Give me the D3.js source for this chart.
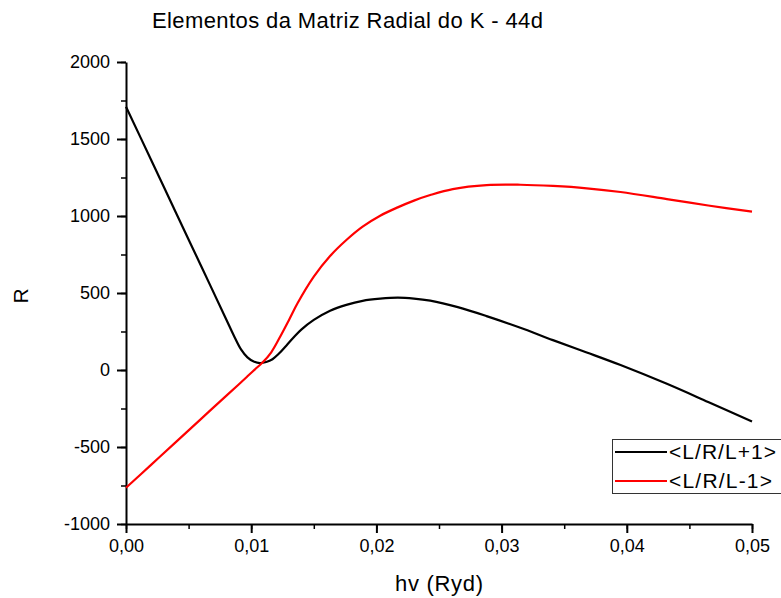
<!DOCTYPE html>
<html>
<head>
<meta charset="utf-8">
<script src="https://cdn.jsdelivr.net/npm/d3@7"></script>
<style>
  body { margin: 0; background: #fff; }
  svg { display: block; font-family: Arial, "Liberation Sans", sans-serif; }
</style>
</head>
<body>
<div id="chart"></div>
<script>
// Chart values
var hv = [0, 0.002, 0.004, 0.006, 0.008, 0.0086, 0.0092, 0.0097, 0.0102, 0.0107, 0.0112, 0.0117, 0.0122, 0.0128, 0.0134,
          0.014, 0.015, 0.0163, 0.0176, 0.0189, 0.0203, 0.0217, 0.023, 0.0243, 0.0265, 0.0288, 0.0315, 0.0341, 0.0368,
          0.0395, 0.0432, 0.0465, 0.05];
var lPlus = [1710, 1365, 1020, 675, 330, 226, 132, 82, 55, 45, 52, 70, 105, 158, 212,
             262, 325, 385, 423, 449, 463, 470, 464, 450, 408, 350, 274, 194, 114,
             32, -90, -208, -335];

var hvRed = [0, 0.002, 0.004, 0.006, 0.008, 0.009, 0.0097, 0.0103, 0.0109, 0.0116, 0.0123, 0.013, 0.0137, 0.015, 0.0163,
             0.0176, 0.0189, 0.0203, 0.0217, 0.023, 0.0243, 0.0261, 0.0288, 0.0315, 0.0341, 0.0368, 0.0395, 0.0432, 0.0465, 0.05];
var lMinus = [-765, -616, -467, -317, -168, -94, -41, 4, 48, 115, 214, 322, 433, 606, 740,
              844, 931, 1002, 1056, 1100, 1136, 1175, 1201, 1203, 1195, 1180, 1156, 1110, 1068, 1028];

var xTicks = [0, 0.01, 0.02, 0.03, 0.04, 0.05];
var yTicks = [-1000, -500, 0, 500, 1000, 1500, 2000];
var seriesNames = ["<L/R/L+1>", "<L/R/L-1>"];
var seriesColors = ["#000000", "#ff0000"];

var width = 781, height = 598;
var svg = d3.select("#chart").append("svg")
  .attr("width", width)
  .attr("height", height);

// scales: plot area from (126,62) to (752,524)
var x = d3.scaleLinear().domain([0, 0.05]).range([126, 752]);
var y = d3.scaleLinear().domain([-1000, 2000]).range([524, 62]);

// minor ticks first
svg.append("g")
  .attr("transform", "translate(126,0)")
  .call(d3.axisLeft(y).tickValues(d3.range(-1000, 2001, 250)).tickSize(5).tickFormat(""))
  .call(g => g.select(".domain").remove())
  .selectAll("line").attr("stroke-width", 1.5);

svg.append("g")
  .attr("transform", "translate(0,524)")
  .call(d3.axisBottom(x).tickValues(d3.range(0, 11).map(i => i * 0.005)).tickSize(5).tickFormat(""))
  .call(g => g.select(".domain").remove())
  .selectAll("line").attr("stroke-width", 1.5);

// main axes
var yAxis = svg.append("g")
  .attr("transform", "translate(126,0)")
  .call(d3.axisLeft(y).tickValues(yTicks).tickSize(9).tickSizeOuter(0).tickPadding(7)
    .tickFormat(d => String(d)));
yAxis.select(".domain").attr("stroke-width", 2);
yAxis.selectAll(".tick line").attr("stroke-width", 2);
yAxis.selectAll("text").attr("font-size", 18).attr("font-family", "Arial, 'Liberation Sans', sans-serif").attr("fill", "#000");

var xAxis = svg.append("g")
  .attr("transform", "translate(0,524)")
  .call(d3.axisBottom(x).tickValues(xTicks).tickSize(9).tickSizeOuter(0).tickPadding(6)
    .tickFormat(d => d3.format(".2f")(d).replace(".", ",")));
xAxis.select(".domain").attr("stroke-width", 2);
xAxis.selectAll(".tick line").attr("stroke-width", 2);
xAxis.selectAll("text").attr("font-size", 18).attr("font-family", "Arial, 'Liberation Sans', sans-serif").attr("fill", "#000");

// curves
var line = d3.line()
  .x(d => x(d[0]))
  .y(d => y(d[1]))
  .curve(d3.curveCatmullRom.alpha(0.5));

svg.append("path")
  .datum(hv.map((h, i) => [h, lPlus[i]]))
  .attr("d", line)
  .attr("fill", "none")
  .attr("stroke", seriesColors[0])
  .attr("stroke-width", 2.2);

svg.append("path")
  .datum(hvRed.map((h, i) => [h, lMinus[i]]))
  .attr("d", line)
  .attr("fill", "none")
  .attr("stroke", seriesColors[1])
  .attr("stroke-width", 2.2);

// titles (the original text is set wide, so stretch it to its width)
svg.append("text")
  .attr("x", 152).attr("y", 28)
  .attr("font-size", 22)
  .attr("textLength", 391).attr("lengthAdjust", "spacing")
  .text("Elementos da Matriz Radial do K - 44d");

svg.append("text")
  .attr("x", 395).attr("y", 591)
  .attr("font-size", 22)
  .attr("textLength", 88).attr("lengthAdjust", "spacing")
  .text("hv (Ryd)");

svg.append("text")
  .attr("transform", "translate(28,296) rotate(-90)")
  .attr("text-anchor", "middle")
  .attr("font-size", 21)
  .text("R");

// legend
var legend = svg.append("g");
legend.append("rect")
  .attr("x", 612.5).attr("y", 439.5)
  .attr("width", 190).attr("height", 54)
  .attr("fill", "#fff")
  .attr("stroke", "#333")
  .attr("stroke-width", 1);

var legendWidths = [107, 103];
seriesNames.forEach(function(name, i) {
  var ly = 452 + i * 29;
  legend.append("line")
    .attr("x1", 615).attr("x2", 667)
    .attr("y1", ly).attr("y2", ly)
    .attr("stroke", seriesColors[i])
    .attr("stroke-width", 2.2);
  legend.append("text")
    .attr("x", 669).attr("y", ly + 7)
    .attr("font-size", 21)
    .attr("textLength", legendWidths[i]).attr("lengthAdjust", "spacing")
    .text(name);
});
</script>
</body>
</html>
